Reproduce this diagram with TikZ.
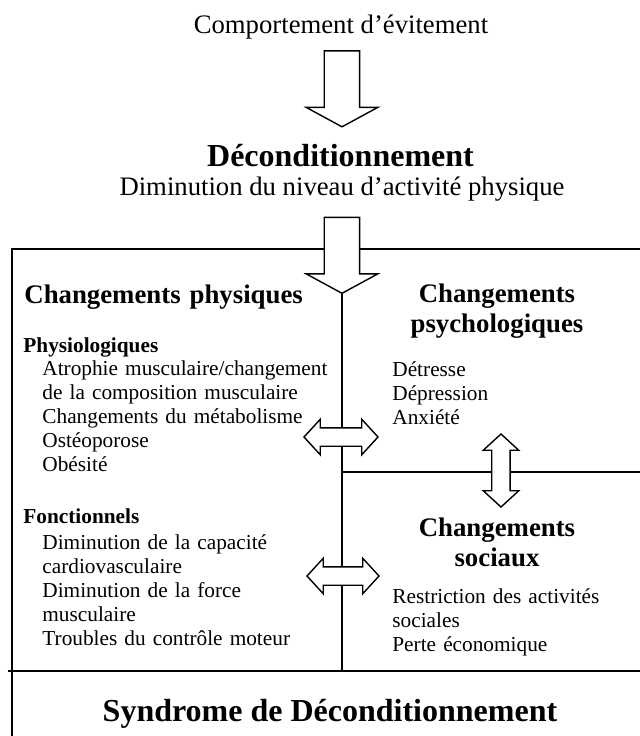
\documentclass[tikz,border=0pt]{standalone}
\usepackage{fontspec}
\setmainfont{Liberation Serif}
\usetikzlibrary{shapes.arrows,positioning,calc}

\begin{document}
\begin{tikzpicture}[
    x=0.5pt, y=-0.5pt,
    toptext/.style={anchor=base, inner sep=0, font=\fontsize{13.35}{16}\selectfont},
    title/.style={anchor=base, inner sep=0, font=\fontsize{16}{19}\selectfont\bfseries},
    heading/.style={anchor=base, inner sep=0, text width=100pt, align=center, font=\fontsize{13.4}{15}\selectfont\bfseries},
    subhead/.style={anchor=base west, inner sep=0, font=\fontsize{10.65}{12}\selectfont\bfseries},
    itemlist/.style={anchor=base west, inner sep=0, text width=150pt, align=left, font=\fontsize{10.65}{12}\selectfont},
    blockarrow/.style={single arrow, draw, fill=white, line width=0.7pt, inner xsep=0, inner ysep=8.5pt, rotate=-90,
        minimum height=38pt, single arrow head extend=9pt, single arrow tip angle=123},
    dblarrow/.style={double arrow, draw, fill=white, line width=0.7pt, inner xsep=0, inner ysep=4.25pt,
        double arrow head extend=4.25pt, double arrow tip angle=95},
    boxline/.style={line width=0.7pt}
]
\useasboundingbox (0,0) rectangle (640,736);

% Top
\node[toptext] (avoid) at (341,33) {Comportement d’évitement};
\node[title] (decond) at (340.5,166) {Déconditionnement};
\node[toptext] (activity) at (342,195) {Diminution du niveau d’activité physique};

% Frame
\coordinate (sepleft) at (8,671);
\coordinate (sepright) at (640,671);
\coordinate (sepmid) at (342,671);
\coordinate (midline) at (342,472);
\draw[boxline] (12,736) -- (12,249) -- (640,249);
\draw[boxline] (sepleft) -- (sepright);
\draw[boxline] (midline) -- (640,472);

% Block arrows
\node[blockarrow] (arrtop) at (342,84) {};
\node[blockarrow] (arrbox) at (342,250.5) {};
\draw[boxline] (arrbox.tip) -- (sepmid);

% Left: physical changes
\node[heading, anchor=base west, text width=150pt, align=left] (physhead) at (24,303) {Changements physiques};
\node[subhead] (physio) at (23,352) {Physiologiques};
\node[itemlist] (physiolist) at (42,375) {Atrophie musculaire/changement\\de la composition musculaire\\Changements du métabolisme\\Ostéoporose\\Obésité};
\node[subhead] (fonct) at (23,523) {Fonctionnels};
\node[itemlist] (fonctlist) at (42,549) {Diminution de la capacité\\cardiovasculaire\\Diminution de la force\\musculaire\\Troubles du contrôle moteur};

% Right: psychological and social changes
\node[heading] (psyhead) at (497,302) {Changements\\psychologiques};
\node[itemlist, text width=120pt] (psylist) at (392,376) {Détresse\\Dépression\\Anxiété};
\node[heading] (sochead) at (497,536) {Changements\\sociaux};
\node[itemlist, text width=120pt] (soclist) at (392,603) {Restriction des activités\\sociales\\Perte économique};

% Double arrows
\node[dblarrow, minimum height=37pt] (physpsy) at (341,437) {};
\node[dblarrow, minimum height=36pt] (physsoc) at (343,576) {};
\node[dblarrow, minimum height=36.5pt, rotate=90] (psysoc) at (501,470.5) {};

% Bottom
\node[title] (syndrome) at (330,721) {Syndrome de Déconditionnement};

\end{tikzpicture}
\end{document}
